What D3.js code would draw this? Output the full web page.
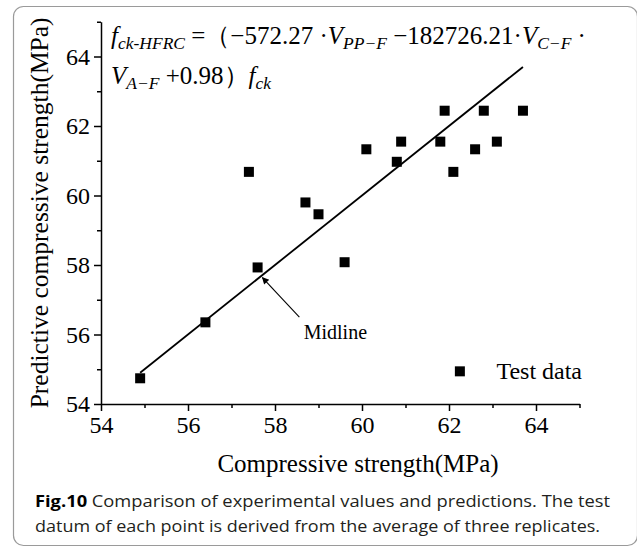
<!DOCTYPE html>
<html>
<head>
<meta charset="utf-8">
<script src="https://cdn.jsdelivr.net/npm/d3@7"></script>
<style>
  body { margin: 0; background: #fff; }
  svg text { font-family: "Liberation Serif", "Times New Roman", serif; fill: #000; }
  .caption text { font-family: "Open Sans", "Noto Sans", sans-serif; fill: #231f20; }
</style>
</head>
<body>
<div id="chart"></div>
<script>
// data
const measured  = [54.9, 56.4, 57.4, 57.6, 58.7, 59.0, 59.6, 60.1, 60.8, 60.9, 61.8, 61.9, 62.1, 62.6, 62.8, 63.1, 63.7];
const predicted = [54.74, 56.35, 60.68, 57.93, 59.8, 59.46, 58.08, 61.33, 60.97, 61.55, 61.55, 62.44, 60.68, 61.33, 62.44, 61.55, 62.44];
const midline   = [54.9, 63.7];   // y = x
const majorTicks = [54, 56, 58, 60, 62, 64];
const minorTicks = [55, 57, 59, 61, 63, 65];
const xLabel = "Compressive strength(MPa)";
const yLabel = "Predictive compressive strength(MPa)";
const legendLabel = "Test data";
const captionLines = [
  ["Fig.10", "  Comparison of experimental values and predictions. The test"],
  ["", "datum of each point is derived from the average of three replicates."]
];

const W = 637, H = 547;

const svg = d3.select("#chart").append("svg")
  .attr("width", W).attr("height", H);

// rounded frame around figure + caption
svg.append("rect")
  .attr("x", 13.5).attr("y", 6.5)
  .attr("width", 624).attr("height", 539)
  .attr("rx", 10)
  .attr("fill", "none").attr("stroke", "#9a9a9a").attr("stroke-width", 1.2);

const x = d3.scaleLinear().domain([54, 65]).range([101, 579.5]);
const y = d3.scaleLinear().domain([54, 65]).range([404, 21.75]);

// axes: major + minor ticks, outward
const gx = svg.append("g").attr("transform", `translate(0,${y(54)})`);
gx.call(d3.axisBottom(x).tickValues(majorTicks).tickSize(7).tickSizeOuter(0).tickPadding(5));
gx.append("g").call(d3.axisBottom(x).tickValues(minorTicks).tickSize(4).tickFormat(""))
  .select(".domain").remove();

const gy = svg.append("g").attr("transform", `translate(${x(54)},0)`);
gy.call(d3.axisLeft(y).tickValues(majorTicks).tickSize(7).tickSizeOuter(0).tickPadding(4));
gy.append("g").call(d3.axisLeft(y).tickValues(minorTicks).tickSize(4).tickFormat(""))
  .select(".domain").remove();

svg.selectAll(".domain, .tick line").attr("stroke", "#000").attr("stroke-width", 1.5);
gx.selectAll(".tick text").attr("font-size", 24).attr("font-family", "Liberation Serif").attr("dy", "0.72em");
gy.selectAll(".tick text").attr("font-size", 24).attr("font-family", "Liberation Serif");

// axis titles
svg.append("text")
  .attr("x", 358).attr("y", 472)
  .attr("text-anchor", "middle").attr("font-size", 25)
  .text(xLabel);

svg.append("text")
  .attr("transform", `translate(48,${(y(54) + y(65)) / 2}) rotate(-90)`)
  .attr("text-anchor", "middle").attr("font-size", 25.5)
  .text(yLabel);

// midline
svg.append("line")
  .attr("x1", x(midline[0])).attr("y1", y(midline[0]))
  .attr("x2", x(midline[1])).attr("y2", y(midline[1]))
  .attr("stroke", "#000").attr("stroke-width", 1.8);

// test data squares
const ms = 10;
svg.append("g").selectAll("rect")
  .data(measured.map((m, i) => ({m, p: predicted[i]})))
  .join("rect")
    .attr("x", d => x(d.m) - ms / 2)
    .attr("y", d => y(d.p) - ms / 2)
    .attr("width", ms).attr("height", ms)
    .attr("fill", "#000");

// arrow + "Midline" label
svg.append("defs").append("marker")
  .attr("id", "arrow").attr("viewBox", "0 0 10 10")
  .attr("refX", 9).attr("refY", 5)
  .attr("markerWidth", 9).attr("markerHeight", 7)
  .attr("markerUnits", "userSpaceOnUse")
  .attr("orient", "auto")
  .append("path").attr("d", "M0,0 L10,5 L0,10 Z").attr("fill", "#000");

const arrowTail = [58.56, 56.5], arrowHead = [57.71, 57.64];
svg.append("line")
  .attr("x1", x(arrowTail[0])).attr("y1", y(arrowTail[1]))
  .attr("x2", x(arrowHead[0])).attr("y2", y(arrowHead[1]))
  .attr("stroke", "#000").attr("stroke-width", 1.1)
  .attr("marker-end", "url(#arrow)");

svg.append("text")
  .attr("x", x(58.66)).attr("y", y(55.87))
  .attr("font-size", 20)
  .text("Midline");

// legend
svg.append("rect")
  .attr("x", x(62.25) - ms / 2).attr("y", y(54.94) - ms / 2)
  .attr("width", ms).attr("height", ms).attr("fill", "#000");
svg.append("text")
  .attr("x", x(63.09)).attr("y", y(54.72))
  .attr("font-size", 24)
  .text(legendLabel);

// formula
const f1 = svg.append("text").attr("x", 111).attr("y", 44).attr("font-size", 25);
const sub = t => t.append("tspan").attr("font-style", "italic").attr("font-size", 17.5);
f1.append("tspan").attr("font-style", "italic").text("f");
sub(f1).attr("dy", 5).text("ck-HFRC");
f1.append("tspan").attr("dy", -5).text(" =（−572.27 ·");
f1.append("tspan").attr("font-style", "italic").text("V");
sub(f1).attr("dy", 5).text("PP−F");
f1.append("tspan").attr("dy", -5).text(" −182726.21·");
f1.append("tspan").attr("font-style", "italic").text("V");
sub(f1).attr("dy", 5).text("C−F");
f1.append("tspan").attr("dy", -5).text(" ·");

const f2 = svg.append("text").attr("x", 111).attr("y", 84).attr("font-size", 25);
f2.append("tspan").attr("font-style", "italic").text("V");
sub(f2).attr("dy", 5).text("A−F");
f2.append("tspan").attr("dy", -5).text(" +0.98）");
f2.append("tspan").attr("font-style", "italic").text("f");
sub(f2).attr("dy", 5).text("ck");

// caption
const cap = svg.append("g").attr("class", "caption");
const capWidths = [575, 565];
captionLines.forEach((ln, i) => {
  const t = cap.append("text")
    .attr("x", 35).attr("y", 507 + i * 25)
    .attr("font-size", 16)
    .attr("textLength", capWidths[i]).attr("lengthAdjust", "spacingAndGlyphs");
  if (ln[0]) t.append("tspan").attr("font-weight", "bold").attr("fill", "#000").text(ln[0]);
  t.append("tspan").text(ln[1]);
});
</script>
</body>
</html>
